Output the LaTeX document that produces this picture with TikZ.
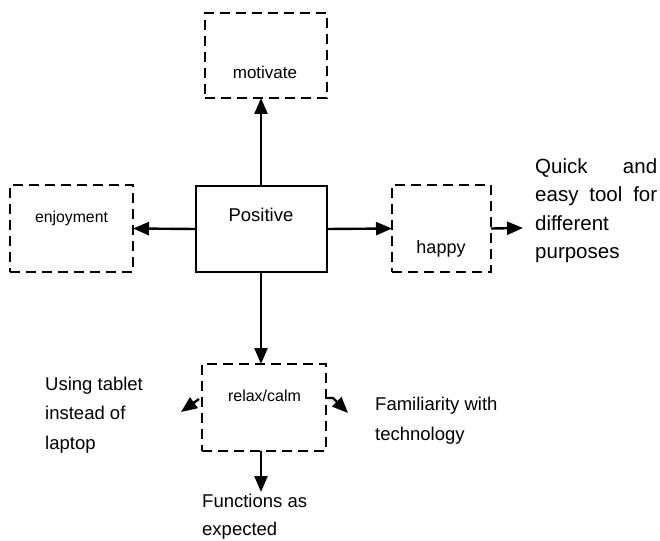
\documentclass[tikz,border=0pt]{standalone}
\usepackage{fontspec}
\setmainfont{Liberation Sans}
\usetikzlibrary{arrows.meta}
\tikzset{
  dbox/.style={draw, line width=2.5pt, dash pattern=on 10pt off 6pt, outer sep=0pt, inner sep=0pt},
  sbox/.style={draw, line width=1.6pt, outer sep=0pt, inner sep=0pt},
  conn/.style={line width=2.4pt, -{Triangle[length=16pt,width=13pt]}},
  boxtext/.style={anchor=base, inner sep=0pt},
  lbl/.style={anchor=base west, inner sep=0pt, align=left, font=\fontsize{18.5}{29.5}\selectfont},
}
\begin{document}
\begin{tikzpicture}[x=1pt, y=-1pt]
\useasboundingbox (0,0) rectangle (660,540);
% boxes
\node[dbox, minimum width=122pt, minimum height=85pt] (mot) at (266,55.5) {};
\node[sbox, minimum width=131pt, minimum height=86pt] (pos) at (261.5,229) {};
\node[dbox, minimum width=123pt, minimum height=87pt] (enj) at (71.5,228.5) {};
\node[dbox, minimum width=99pt, minimum height=87pt] (hap) at (441.5,228.5) {};
\node[dbox, minimum width=124pt, minimum height=87pt] (rel) at (264,407.5) {};
% box texts
\node[boxtext, font=\fontsize{17}{20}\selectfont] (motT) at (265,79) {motivate};
\node[boxtext, font=\fontsize{18.5}{22}\selectfont] (posT) at (261,221) {Positive};
\node[boxtext, font=\fontsize{15.8}{19}\selectfont] (enjT) at (71.5,222) {enjoyment};
\node[boxtext, font=\fontsize{18}{21}\selectfont] (hapT) at (441,253) {happy};
\node[boxtext, font=\fontsize{16}{19}\selectfont] (relT) at (264.5,401) {relax/calm};
% outside labels (base = baseline of last line)
\node[lbl] (use) at (45,449) {Using tablet\\instead of\\laptop};
\node[lbl, font=\fontsize{18.5}{30}\selectfont] (fam) at (375,440) {Familiarity with\\technology};
\node[lbl, font=\fontsize{18.5}{28.5}\selectfont] (fun) at (202,535.5) {Functions as\\expected};
\node[anchor=base west, inner sep=0pt, text width=122pt, align=left, font=\fontsize{20.5}{28.5}\selectfont] (quick) at (535,173)
  {Quick\hfill and\\easy\hfill tool\hfill for\\different\\purposes};
% free ends
\coordinate (hapTip) at (523,228);
\coordinate (relRTip) at (348,413);
\coordinate (relLStart) at (199,399);
\coordinate (relLTip) at (181,412);
\coordinate (relBTip) at (261,492);
% connectors
\draw[conn] (pos.north -| 261,0) -- (261,0 |- mot.south);
\draw[conn] (pos.west) -- (enj.east);
\draw[conn] (pos.east) -- (hap.west);
\draw[conn] (pos.south -| 261,0) -- (261,0 |- rel.north);
\draw[conn] (hap.east) -- (hapTip);
\draw[conn] ([yshift=9.5pt]rel.east) -- ++(7,0) -- (relRTip);
\draw[conn] (relLStart) -- (relLTip);
\draw[conn] (rel.south -| relBTip) -- (relBTip);
\end{tikzpicture}
\end{document}
